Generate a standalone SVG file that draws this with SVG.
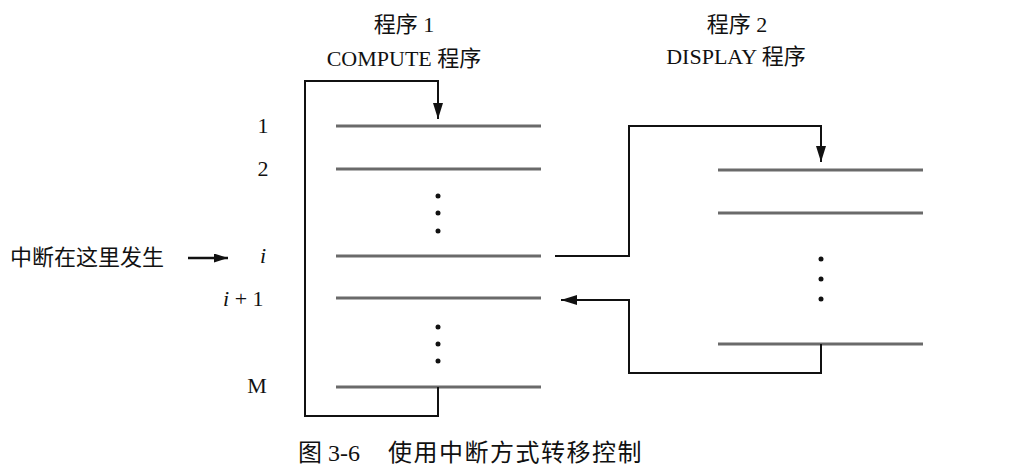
<svg xmlns="http://www.w3.org/2000/svg" width="1023" height="470" viewBox="0 0 1023 470">
<style>
text{font-family:"Liberation Serif","Noto Sans CJK SC",serif;fill:#111;font-size:22px}
.it{font-style:italic}
.row{stroke:#6a6a6a;stroke-width:3}
.con{fill:none;stroke:#111;stroke-width:2}
.dot{fill:#111}
.mid{text-anchor:middle}
</style>
<defs>
<marker id="ah" markerUnits="userSpaceOnUse" markerWidth="16" markerHeight="10" refX="16" refY="5" orient="auto">
<path d="M0,0 L16,5 L0,10 z" fill="#111"/>
</marker>
<marker id="ahs" markerUnits="userSpaceOnUse" markerWidth="14" markerHeight="9" refX="14" refY="4.5" orient="auto">
<path d="M0,0 L14,4.5 L0,9 z" fill="#111"/>
</marker>
</defs>

<g id="prog1">
<text class="mid" x="404" y="32">程序 1</text>
<text class="mid" x="404" y="66">COMPUTE 程序</text>
<line class="row" x1="336" y1="126" x2="541" y2="126"/>
<line class="row" x1="336" y1="169" x2="541" y2="169"/>
<line class="row" x1="336" y1="256" x2="541" y2="256"/>
<line class="row" x1="336" y1="298" x2="541" y2="298"/>
<line class="row" x1="336" y1="387" x2="541" y2="387"/>
<circle class="dot" cx="438" cy="196" r="2.5"/>
<circle class="dot" cx="438" cy="213" r="2.5"/>
<circle class="dot" cx="438" cy="231" r="2.5"/>
<circle class="dot" cx="438" cy="327" r="2.5"/>
<circle class="dot" cx="438" cy="344" r="2.5"/>
<circle class="dot" cx="438" cy="361" r="2.5"/>
</g>

<g id="labels">
<text class="mid" x="263" y="133">1</text>
<text class="mid" x="263" y="176">2</text>
<text class="it" x="260" y="263">i</text>
<text x="223" y="306"><tspan class="it">i</tspan> + 1</text>
<text class="mid" x="257" y="393">M</text>
</g>

<g id="interrupt">
<text x="10" y="265">中断在这里发生</text>
</g>

<g id="prog2">
<text class="mid" x="737" y="32">程序 2</text>
<text class="mid" x="736" y="64">DISPLAY 程序</text>
<line class="row" x1="718" y1="170" x2="923" y2="170"/>
<line class="row" x1="718" y1="213" x2="923" y2="213"/>
<line class="row" x1="718" y1="344" x2="923" y2="344"/>
<circle class="dot" cx="821" cy="259" r="2.5"/>
<circle class="dot" cx="821" cy="279" r="2.5"/>
<circle class="dot" cx="821" cy="299" r="2.5"/>
</g>

<g id="connectors">
<polyline class="con" points="438,387 438,416 305,416 305,81 438,81 438,119" marker-end="url(#ah)"/>
<polyline class="con" points="555,256 629,256 629,126 821,126 821,162" marker-end="url(#ah)"/>
<polyline class="con" points="821,344 821,373 629,373 629,300 561,300" marker-end="url(#ah)"/>
<line class="con" x1="188" y1="258" x2="228" y2="258" style="stroke-width:2.5" marker-end="url(#ahs)"/>
</g>

<g id="caption">
<text x="298" y="461" style="font-size:24px">图 3-6</text>
<text x="388" y="461" style="font-size:24px;letter-spacing:1.5px">使用中断方式转移控制</text>
</g>
</svg>
